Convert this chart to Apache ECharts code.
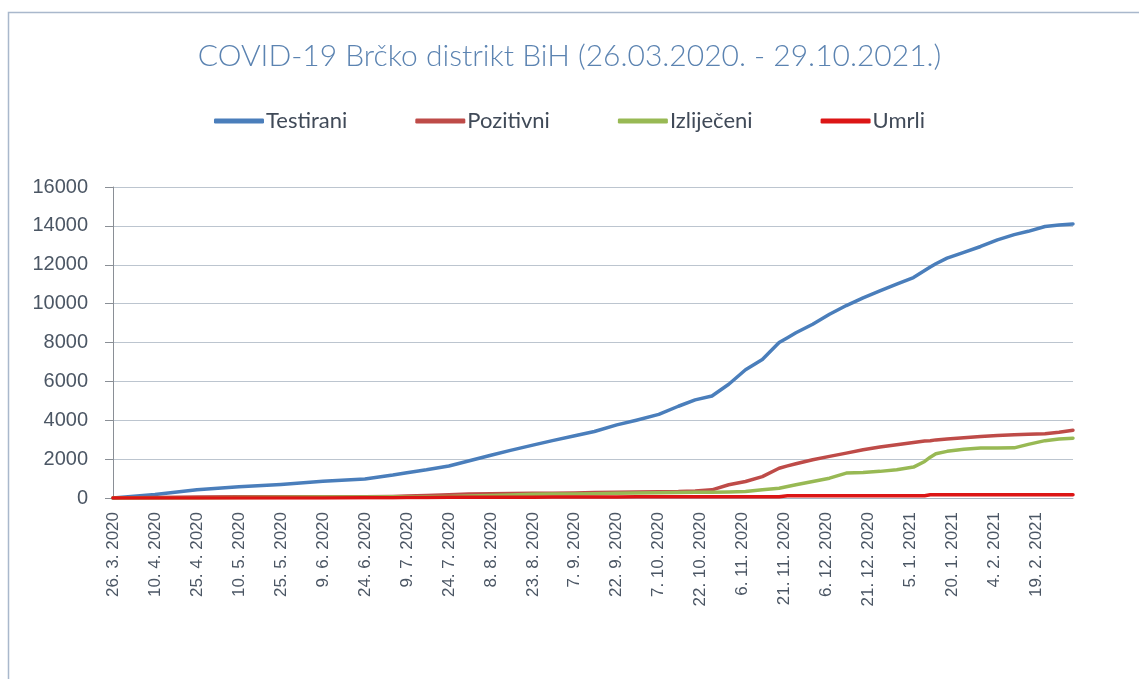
<!DOCTYPE html>
<html>
<head>
<meta charset="utf-8">
<title>COVID-19 Brčko distrikt BiH</title>
<script src="https://cdn.jsdelivr.net/npm/echarts@6/dist/echarts.min.js"></script>
<style>
  html, body {margin:0;padding:0;background:#fff;}
  #chart {width:1139px;height:679px;}
</style>
</head>
<body>
<div id="chart"></div>
<script>
// dani od 26.3.2020 (dan 0)
var days = [0, 15, 30, 45, 60, 75, 90, 100, 105, 112, 120, 127, 135, 142, 150, 157, 165, 172, 180, 187, 195, 202, 208, 214, 220, 226, 232, 238, 241, 244, 250, 256, 262, 268, 274, 280, 286, 290, 292, 294, 298, 304, 310, 316, 322, 327, 333, 338, 343];
var testirani = [0, 180, 420, 580, 700, 860, 980, 1180, 1300, 1450, 1650, 1900, 2200, 2450, 2720, 2950, 3200, 3420, 3760, 4000, 4300, 4720, 5050, 5250, 5850, 6600, 7130, 8000, 8250, 8500, 8940, 9450, 9900, 10300, 10650, 11000, 11340, 11700, 11880, 12050, 12340, 12640, 12940, 13280, 13550, 13720, 13970, 14050, 14100];
var pozitivni = [0, 30, 55, 60, 62, 65, 70, 80, 100, 130, 170, 200, 220, 230, 240, 250, 260, 280, 300, 310, 320, 330, 360, 420, 680, 850, 1100, 1530, 1650, 1760, 1970, 2140, 2310, 2480, 2620, 2740, 2860, 2930, 2950, 2990, 3030, 3100, 3170, 3220, 3250, 3280, 3300, 3380, 3480];
var izlijeceni = [0, 0, 5, 20, 40, 50, 55, 60, 65, 70, 80, 100, 130, 160, 190, 200, 210, 220, 250, 260, 270, 280, 290, 300, 310, 335, 420, 500, 590, 680, 850, 1020, 1280, 1310, 1370, 1450, 1590, 1880, 2100, 2280, 2400, 2510, 2570, 2570, 2580, 2760, 2950, 3030, 3080];
var umrli = [0, 2, 3, 4, 5, 6, 8, 10, 20, 30, 35, 38, 40, 42, 45, 48, 50, 52, 55, 58, 60, 62, 65, 68, 70, 70, 70, 70, 120, 120, 120, 120, 120, 120, 120, 120, 120, 120, 170, 170, 170, 170, 170, 170, 170, 170, 170, 170, 170];
var xLabels = ['26. 3. 2020', '10. 4. 2020', '25. 4. 2020', '10. 5. 2020', '25. 5. 2020', '9. 6. 2020', '24. 6. 2020', '9. 7. 2020', '24. 7. 2020', '8. 8. 2020', '23. 8. 2020', '7. 9. 2020', '22. 9. 2020', '7. 10. 2020', '22. 10. 2020', '6. 11. 2020', '21. 11. 2020', '6. 12. 2020', '21. 12. 2020', '5. 1. 2021', '20. 1. 2021', '4. 2. 2021', '19. 2. 2021'];

function pairs(vals) {
  return days.map(function (d, i) { return [d, vals[i]]; });
}

var chart = echarts.init(document.getElementById('chart'));

function line(name, vals, color) {
  return {
    name: name,
    type: 'line',
    data: pairs(vals),
    showSymbol: false,
    symbol: 'none',
    lineStyle: {width: 3.5, color: color, cap: 'round', join: 'round'},
    itemStyle: {color: color}
  };
}

var option = {
  animation: false,
  backgroundColor: '#fff',
  graphic: [{
    type: 'rect',
    shape: {x: 8.5, y: 12.5, width: 1300, height: 900},
    style: {fill: 'none', stroke: '#a9b8cc', lineWidth: 1.5},
    silent: true
  }],
  title: {
    text: 'COVID-19 Brčko distrikt BiH (26.03.2020. - 29.10.2021.)',
    left: 'center',
    top: 36,
    textStyle: {fontFamily: 'Lato', fontWeight: 300, fontSize: 30, color: '#5b83b1'}
  },
  legend: {
    top: 105,
    left: 'center',
    itemWidth: 50,
    itemHeight: 5,
    itemGap: 68,
    icon: 'roundRect',
    selectedMode: false,
    textStyle: {fontFamily: 'Lato', fontSize: 22, color: '#404a58', padding: [0, 0, 0, -3]}
  },
  grid: {left: 113, right: 66, top: 187, bottom: 181, containLabel: false},
  xAxis: {
    type: 'value',
    min: 0,
    max: 343,
    interval: 15,
    splitLine: {show: false},
    axisLine: {show: true, lineStyle: {color: '#aab4c0', width: 1}},
    axisTick: {show: false},
    axisLabel: {
      rotate: 90,
      margin: 14,
      showMaxLabel: false,
      fontFamily: 'Liberation Sans',
      fontSize: 17,
      color: '#4b5664',
      formatter: function (v) { return xLabels[Math.round(v / 15)] || ''; }
    }
  },
  yAxis: {
    type: 'value',
    min: 0,
    max: 16000,
    interval: 2000,
    axisLine: {show: true, lineStyle: {color: '#8a8f96', width: 1}},
    axisTick: {show: true, inside: false, length: 8, lineStyle: {color: '#8a8f96'}},
    splitLine: {lineStyle: {color: '#bcc5cf', width: 1}},
    axisLabel: {margin: 25, fontFamily: 'Liberation Sans', fontSize: 20, color: '#4b5664',
      formatter: function (v) { return String(v); }}
  },
  series: [
    line('Testirani', testirani, '#4a7ebb'),
    line('Pozitivni', pozitivni, '#be4b48'),
    line('Izliječeni', izlijeceni, '#98b954'),
    line('Umrli', umrli, '#dc1515')
  ]
};
chart.setOption(option);
</script>
</body>
</html>
